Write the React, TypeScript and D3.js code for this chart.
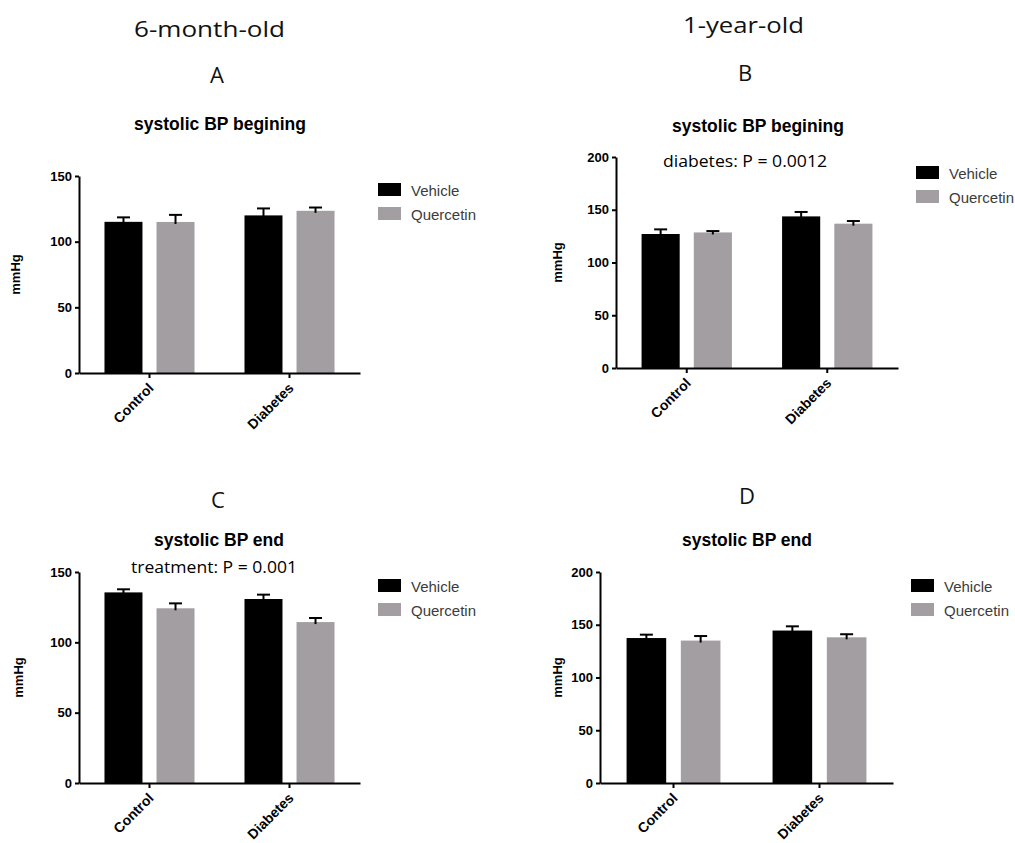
import React, { useEffect, useRef } from 'react'
import * as d3 from 'd3'

const categories = ['Control', 'Diabetes']
const groups = ['Vehicle', 'Quercetin']
const colors = ['#000000', '#a29ea2']

// A: 6-month-old, beginning
const aVehicle = [115.1, 120.0]
const aVehicleSem = [3.4, 5.3]
const aQuercetin = [115.0, 123.5]
const aQuercetinSem = [5.4, 2.5]
// B: 1-year-old, beginning
const bVehicle = [127.0, 143.7]
const bVehicleSem = [4.4, 4.2]
const bQuercetin = [128.5, 136.8]
const bQuercetinSem = [1.3, 2.5]
// C: 6-month-old, end
const cVehicle = [135.5, 130.8]
const cVehicleSem = [2.2, 3.1]
const cQuercetin = [124.2, 114.4]
const cQuercetinSem = [3.5, 2.9]
// D: 1-year-old, end
const dVehicle = [137.4, 144.5]
const dVehicleSem = [3.2, 4.0]
const dQuercetin = [135.0, 138.1]
const dQuercetinSem = [4.3, 2.9]

const ticks150 = [0, 50, 100, 150]
const ticks200 = [0, 50, 100, 150, 200]

const arial = 'Liberation Sans, Arial, sans-serif'
const calibri = 'Open Sans, Noto Sans, sans-serif'

function drawPanel(svg: any, p: any) {
  let y = d3.scaleLinear().domain([0, p.yMax]).range([p.y0, p.yTop])
  let x = d3.scaleBand().domain(categories).range([p.left, p.right])
    .paddingInner(0.357).paddingOuter(0.182)
  let xi = d3.scaleBand().domain(groups).range([0, x.bandwidth()]).paddingInner(0.27)

  let g = svg.append('g')

  let rows = categories.map((c, i) => [
    { cat: c, grp: groups[0], v: p.vehicle[i], e: p.vehicleSem[i] },
    { cat: c, grp: groups[1], v: p.quercetin[i], e: p.quercetinSem[i] },
  ]).flat()

  g.selectAll('.bar').data(rows).enter().append('rect')
    .attr('x', (d: any) => x(d.cat)! + xi(d.grp)!)
    .attr('y', (d: any) => y(d.v))
    .attr('width', xi.bandwidth())
    .attr('height', (d: any) => y(0) - y(d.v))
    .attr('fill', (d: any) => colors[groups.indexOf(d.grp)])

  // error bars (upper half only)
  let capW = 13
  rows.forEach((d: any) => {
    let cx = x(d.cat)! + xi(d.grp)! + xi.bandwidth() / 2
    g.append('line').attr('x1', cx).attr('x2', cx)
      .attr('y1', y(d.v) + 2).attr('y2', y(d.v + d.e))
      .attr('stroke', '#000').attr('stroke-width', 2)
    g.append('line').attr('x1', cx - capW / 2).attr('x2', cx + capW / 2)
      .attr('y1', y(d.v + d.e)).attr('y2', y(d.v + d.e))
      .attr('stroke', '#000').attr('stroke-width', 2)
  })

  let ya = g.append('g').attr('transform', 'translate(' + p.left + ',0)')
    .call(d3.axisLeft(y).tickValues(p.ticks).tickSize(4).tickSizeOuter(0).tickPadding(3))
  ya.selectAll('path,line').attr('stroke', '#000').attr('stroke-width', 2)
  ya.selectAll('text').style('font', 'bold 13px ' + arial).attr('fill', '#000')

  let xa = g.append('g').attr('transform', 'translate(0,' + p.y0 + ')')
    .call(d3.axisBottom(x).tickSize(5).tickSizeOuter(0))
  xa.selectAll('path,line').attr('stroke', '#000').attr('stroke-width', 2)
  xa.selectAll('text')
    .attr('x', 0).attr('y', 0).attr('dy', 0)
    .attr('text-anchor', 'end')
    .attr('transform', 'translate(5,16) rotate(-45)')
    .style('font', 'bold 14px ' + arial).attr('fill', '#000')

  g.append('text')
    .attr('transform', 'translate(' + (p.yLabelX + 4) + ',' + (p.y0 + p.yTop) / 2 + ') rotate(-90)')
    .attr('text-anchor', 'middle')
    .style('font', 'bold 13px ' + arial)
    .text('mmHg')

  g.append('text')
    .attr('x', p.titleX).attr('y', p.titleY)
    .attr('text-anchor', 'middle')
    .style('font', 'bold 17.5px ' + arial)
    .text(p.title)

  if (p.note) {
    g.append('text')
      .attr('x', p.noteX).attr('y', p.noteY)
      .attr('text-anchor', 'middle')
      .attr('textLength', p.noteW).attr('lengthAdjust', 'spacingAndGlyphs')
      .style('font', '16px ' + calibri)
      .text(p.note)
  }

  // legend
  let lx = p.right + 18
  groups.forEach((name, i) => {
    let top = p.legendY + i * 24
    g.append('rect').attr('x', lx).attr('y', top)
      .attr('width', 23).attr('height', 13).attr('fill', colors[i])
    g.append('text').attr('x', lx + 33).attr('y', top + 12.5)
      .style('font', '15px ' + arial).attr('fill', '#3c3c3c')
      .text(name)
  })
}

export default function App() {
  const ref = useRef<SVGSVGElement>(null)

  useEffect(() => {
    let svg = d3.select(ref.current)
    svg.selectAll('*').remove()

    let headers = [
      { t: '6-month-old', x: 209.5, y: 37, w: 151 },
      { t: '1-year-old', x: 743.5, y: 33, w: 121 },
      { t: 'A', x: 217, y: 83 },
      { t: 'B', x: 745, y: 81 },
      { t: 'C', x: 218, y: 508 },
      { t: 'D', x: 747, y: 504 },
    ]
    headers.forEach(h => {
      let t = svg.append('text').attr('x', h.x).attr('y', h.y)
        .attr('text-anchor', 'middle')
        .style('font', '22px ' + calibri).attr('fill', '#111')
        .text(h.t)
      if (h.w) t.attr('textLength', h.w).attr('lengthAdjust', 'spacingAndGlyphs')
    })

    drawPanel(svg, {
      left: 79, right: 360, y0: 373, yTop: 176, yMax: 150, ticks: ticks150,
      vehicle: aVehicle, vehicleSem: aVehicleSem, quercetin: aQuercetin, quercetinSem: aQuercetinSem,
      title: 'systolic BP begining', titleX: 220, titleY: 130, yLabelX: 15.5, legendY: 183,
    })
    drawPanel(svg, {
      left: 616, right: 898, y0: 368, yTop: 157, yMax: 200, ticks: ticks200,
      vehicle: bVehicle, vehicleSem: bVehicleSem, quercetin: bQuercetin, quercetinSem: bQuercetinSem,
      title: 'systolic BP begining', titleX: 758, titleY: 132, yLabelX: 557.5, legendY: 166,
      note: 'diabetes: P = 0.0012', noteX: 745, noteY: 167, noteW: 164,
    })
    drawPanel(svg, {
      left: 79, right: 360, y0: 783, yTop: 572, yMax: 150, ticks: ticks150,
      vehicle: cVehicle, vehicleSem: cVehicleSem, quercetin: cQuercetin, quercetinSem: cQuercetinSem,
      title: 'systolic BP end', titleX: 219, titleY: 546, yLabelX: 18.5, legendY: 579,
      note: 'treatment: P = 0.001', noteX: 214, noteY: 573, noteW: 166,
    })
    drawPanel(svg, {
      left: 600, right: 893, y0: 783, yTop: 572, yMax: 200, ticks: ticks200,
      vehicle: dVehicle, vehicleSem: dVehicleSem, quercetin: dQuercetin, quercetinSem: dQuercetinSem,
      title: 'systolic BP end', titleX: 747, titleY: 546, yLabelX: 557.5, legendY: 579,
    })
  }, [])

  return (
    <svg ref={ref} width={1015} height={843}
      style={{ position: 'absolute', left: 0, top: 0, background: '#fff' }} />
  )
}
